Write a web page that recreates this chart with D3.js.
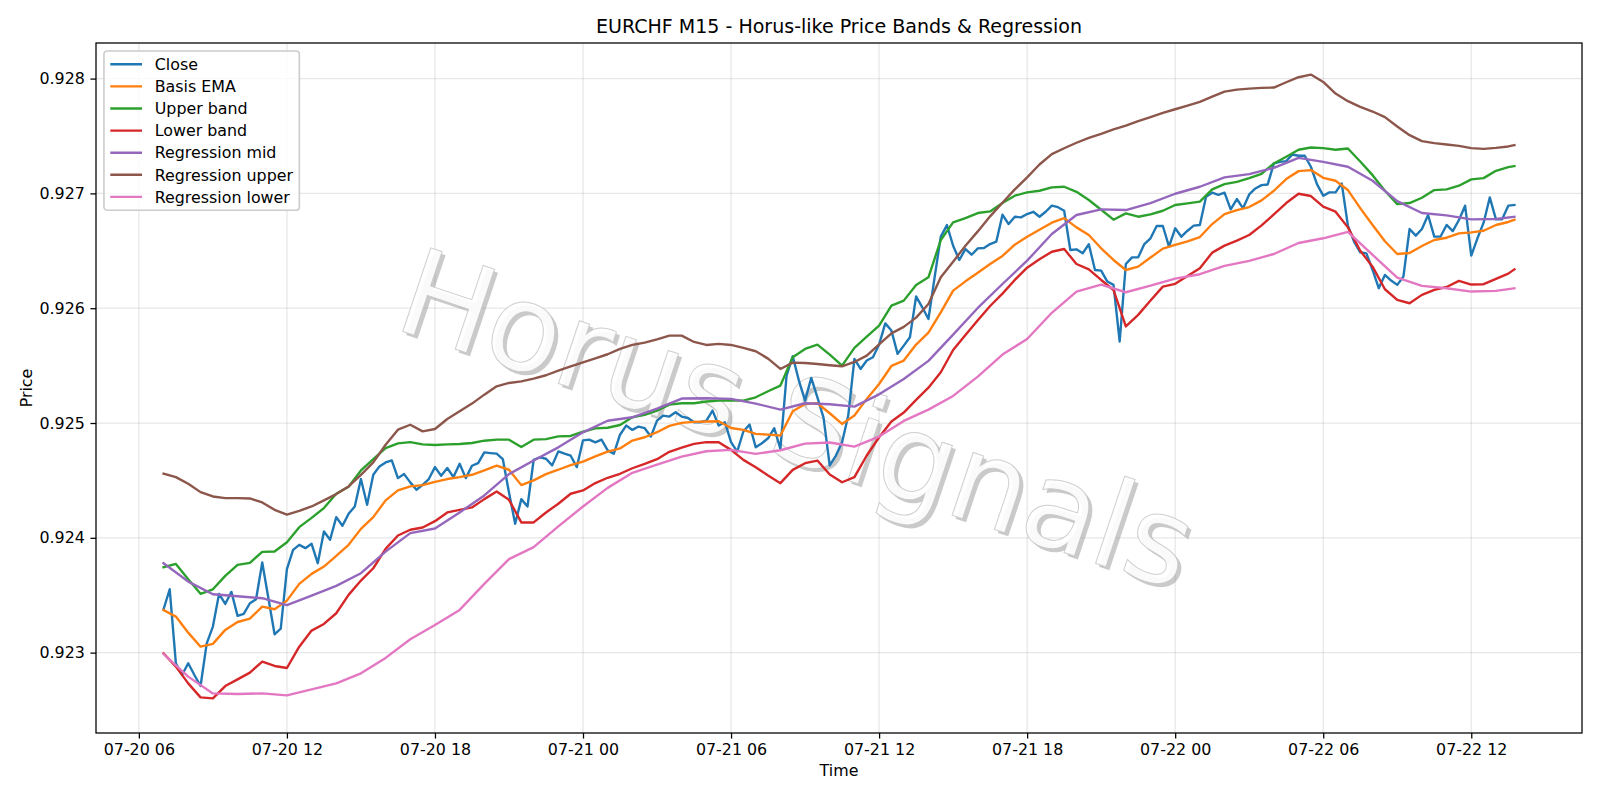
<!DOCTYPE html>
<html><head><meta charset="utf-8">
<script src="https://cdn.jsdelivr.net/npm/d3@7"></script>
<style>
body{margin:0;background:#fff;}
svg text{font-family:"DejaVu Sans",sans-serif;}
</style>
</head><body>
<svg id="chart" width="1600" height="800"></svg>
<script>
// ---------------- DATA ----------------
const chartTitle = "EURCHF M15 - Horus-like Price Bands & Regression";
const xAxisTitle = "Time";
const yAxisTitle = "Price";
const startTime = "2025-07-20T07:00";
const barMinutes = 15;
const seriesNames = ["Close","Basis EMA","Upper band","Lower band","Regression mid","Regression upper","Regression lower"];
const seriesColors = ["#1f77b4","#ff7f0e","#2ca02c","#d62728","#9467bd","#8c564b","#e377c2"];
const xTickLabels = ["07-20 06","07-20 12","07-20 18","07-21 00","07-21 06","07-21 12","07-21 18","07-22 00","07-22 06","07-22 12"];
const yTickLabels = ["0.923","0.924","0.925","0.926","0.927","0.928"];
const yLimits = [0.92230, 0.92831];

// Close, every 15-minute bar (bar 0 .. 219)
const closeValues = [
0.923378,0.923552,0.922907,0.922805,0.922907,0.922805,0.922709,0.923081,0.923227,0.923512,
0.923424,0.923529,0.923320,0.923337,0.923430,0.923465,0.923785,0.923474,0.923160,0.923209,
0.923727,0.923895,0.923939,0.923910,0.923948,0.923779,0.924055,0.923983,0.924180,0.924105,
0.924209,0.924273,0.924512,0.924288,0.924549,0.924622,0.924657,0.924674,0.924520,0.924555,
0.924483,0.924419,0.924462,0.924512,0.924616,0.924541,0.924608,0.924529,0.924645,0.924520,
0.924628,0.924651,0.924744,0.924738,0.924733,0.924686,0.924395,0.924122,0.924337,0.924273,
0.924680,0.924701,0.924689,0.924631,0.924753,0.924733,0.924715,0.924616,0.924849,0.924855,
0.924831,0.924855,0.924762,0.924733,0.924898,0.924978,0.924940,0.924969,0.924955,0.924882,
0.925021,0.925065,0.925056,0.925094,0.925056,0.925044,0.925007,0.925007,0.925021,0.925108,
0.924978,0.925007,0.924833,0.924751,0.924926,0.924986,0.924789,0.924824,0.924867,0.924955,
0.924775,0.925413,0.925581,0.925369,0.925195,0.925393,0.925224,0.925044,0.924630,0.924717,
0.924833,0.925065,0.925558,0.925471,0.925544,0.925573,0.925683,0.925868,0.925805,0.925602,
0.925674,0.925747,0.926103,0.926008,0.925906,0.926269,0.926623,0.926724,0.926544,0.926420,
0.926515,0.926466,0.926521,0.926524,0.926559,0.926579,0.926814,0.926733,0.926797,0.926791,
0.926820,0.926840,0.926797,0.926840,0.926893,0.926880,0.926849,0.926507,0.926513,0.926478,
0.926557,0.926333,0.926327,0.926232,0.926203,0.925710,0.926385,0.926443,0.926443,0.926559,
0.926609,0.926716,0.926716,0.926536,0.926696,0.926623,0.926675,0.926719,0.926725,0.926971,
0.927006,0.926988,0.927006,0.926861,0.926951,0.926870,0.926991,0.927043,0.927072,0.927078,
0.927261,0.927275,0.927281,0.927339,0.927328,0.927328,0.927232,0.927078,0.926980,0.927009,
0.927009,0.927087,0.926719,0.926580,0.926487,0.926478,0.926333,0.926174,0.926290,0.926241,
0.926203,0.926275,0.926690,0.926632,0.926690,0.926812,0.926623,0.926623,0.926725,0.926672,
0.926768,0.926893,0.926458,0.926609,0.926745,0.926965,0.926774,0.926774,0.926893,0.926899
];

// Read every second bar (0,2,...,218) plus the last bar (219)
const emaValues = [
0.923372,0.923314,0.923174,0.923052,0.923076,0.923198,0.923267,0.923296,0.923401,0.923378,
0.923453,0.923599,0.923686,0.923750,0.923843,0.923939,0.924078,0.924180,0.924326,0.924413,
0.924448,0.924459,0.924488,0.924512,0.924529,0.924549,0.924587,0.924628,0.924593,0.924459,
0.924500,0.924555,0.924593,0.924634,0.924663,0.924709,0.924750,0.924779,0.924847,0.924876,
0.924920,0.924975,0.925001,0.925010,0.925013,0.925015,0.924957,0.924940,0.924905,0.924899,
0.924891,0.925102,0.925166,0.925172,0.925085,0.924992,0.925065,0.925210,0.925340,0.925497,
0.925544,0.925683,0.925787,0.925964,0.926153,0.926234,0.926309,0.926385,0.926455,0.926553,
0.926623,0.926684,0.926745,0.926785,0.926704,0.926638,0.926522,0.926420,0.926333,0.926362,
0.926441,0.926519,0.926551,0.926583,0.926620,0.926733,0.926820,0.926855,0.926881,0.926939,
0.927023,0.927125,0.927194,0.927203,0.927136,0.927110,0.927029,0.926872,0.926725,0.926583,
0.926472,0.926481,0.926542,0.926594,0.926614,0.926652,0.926661,0.926675,0.926725,0.926751,
0.926771
];
const upperBandValues = [
0.923744,0.923773,0.923640,0.923512,0.923552,0.923669,0.923765,0.923782,0.923878,0.923881,
0.923962,0.924093,0.924174,0.924259,0.924384,0.924445,0.924587,0.924686,0.924782,0.924823,
0.924834,0.924814,0.924808,0.924814,0.924817,0.924826,0.924846,0.924855,0.924855,0.924791,
0.924855,0.924860,0.924884,0.924887,0.924924,0.924953,0.924959,0.924983,0.925050,0.925071,
0.925108,0.925160,0.925172,0.925172,0.925187,0.925195,0.925198,0.925195,0.925224,0.925277,
0.925326,0.925573,0.925645,0.925683,0.925596,0.925500,0.925654,0.925752,0.925848,0.926022,
0.926066,0.926202,0.926269,0.926594,0.926748,0.926785,0.926829,0.926843,0.926916,0.926980,
0.927009,0.927023,0.927052,0.927058,0.927014,0.926942,0.926858,0.926771,0.926826,0.926797,
0.926817,0.926849,0.926899,0.926913,0.926928,0.927035,0.927081,0.927101,0.927133,0.927171,
0.927261,0.927319,0.927380,0.927400,0.927394,0.927380,0.927391,0.927278,0.927159,0.927023,
0.926907,0.926916,0.926962,0.927029,0.927035,0.927067,0.927122,0.927133,0.927197,0.927229,
0.927238
];
const lowerBandValues = [
0.922994,0.922878,0.922732,0.922610,0.922602,0.922709,0.922767,0.922826,0.922922,0.922884,
0.922866,0.923052,0.923192,0.923250,0.923343,0.923503,0.923628,0.923735,0.923904,0.924020,
0.924070,0.924090,0.924145,0.924221,0.924244,0.924265,0.924337,0.924404,0.924331,0.924134,
0.924134,0.924221,0.924297,0.924384,0.924413,0.924477,0.924523,0.924558,0.924606,0.924644,
0.924685,0.924749,0.924786,0.924818,0.924833,0.924833,0.924766,0.924679,0.924615,0.924543,
0.924476,0.924592,0.924650,0.924673,0.924551,0.924484,0.924528,0.924717,0.924876,0.925013,
0.925091,0.925201,0.925308,0.925442,0.925636,0.925767,0.925895,0.926019,0.926127,0.926246,
0.926353,0.926426,0.926492,0.926516,0.926385,0.926339,0.926246,0.926159,0.925841,0.925942,
0.926067,0.926188,0.926212,0.926281,0.926348,0.926484,0.926545,0.926588,0.926638,0.926722,
0.926817,0.926916,0.926997,0.926977,0.926884,0.926841,0.926704,0.926501,0.926362,0.926165,
0.926072,0.926043,0.926116,0.926159,0.926185,0.926238,0.926206,0.926209,0.926255,0.926301,
0.926339
];
const regUpperValues = [
0.924558,0.924529,0.924471,0.924398,0.924360,0.924346,0.924346,0.924343,0.924308,0.924244,
0.924203,0.924235,0.924273,0.924326,0.924381,0.924448,0.924549,0.924657,0.924811,0.924942,
0.924985,0.924927,0.924948,0.925035,0.925102,0.925169,0.925247,0.925320,0.925349,0.925363,
0.925387,0.925416,0.925456,0.925494,0.925529,0.925564,0.925599,0.925645,0.925680,0.925700,
0.925729,0.925761,0.925761,0.925706,0.925680,0.925689,0.925680,0.925654,0.925625,0.925561,
0.925471,0.925526,0.925523,0.925514,0.925503,0.925494,0.925532,0.925587,0.925686,0.925781,
0.925837,0.925918,0.926037,0.926269,0.926405,0.926544,0.926669,0.926800,0.926919,0.927035,
0.927139,0.927252,0.927342,0.927393,0.927441,0.927484,0.927519,0.927557,0.927591,0.927629,
0.927664,0.927701,0.927733,0.927765,0.927797,0.927843,0.927887,0.927904,0.927913,0.927919,
0.927922,0.927968,0.928012,0.928035,0.927971,0.927870,0.927803,0.927754,0.927713,0.927664,
0.927583,0.927507,0.927455,0.927438,0.927426,0.927414,0.927394,0.927388,0.927397,0.927409,
0.927420
];
// Read every fourth bar (0,4,...,216) plus the last bar (219)
const regMidValues = [
0.923779,0.923619,0.923509,0.923491,0.923474,0.923413,0.923497,0.923581,0.923692,0.923880,
0.924041,0.924081,0.924221,0.924369,0.924555,0.924674,0.924788,0.924919,0.925020,0.925050,
0.925126,0.925213,0.925216,0.925210,0.925169,0.925117,0.925172,0.925163,0.925143,0.925250,
0.925384,0.925541,0.925770,0.926002,0.926211,0.926414,0.926646,0.926812,0.926861,0.926855,
0.926916,0.926997,0.927058,0.927139,0.927168,0.927223,0.927310,0.927275,0.927232,0.927110,
0.926933,0.926829,0.926809,0.926774,0.926777,
0.926797
];
const regLowerValues = [
0.922988,0.922791,0.922645,0.922640,0.922645,0.922628,0.922680,0.922732,0.922820,0.922954,
0.923116,0.923241,0.923372,0.923599,0.923814,0.923919,0.924099,0.924273,0.924435,0.924566,
0.924638,0.924708,0.924754,0.924766,0.924731,0.924763,0.924821,0.924830,0.924795,0.924882,
0.925018,0.925117,0.925236,0.925404,0.925596,0.925732,0.925960,0.926145,0.926206,0.926139,
0.926197,0.926258,0.926296,0.926368,0.926412,0.926472,0.926568,0.926609,0.926665,0.926464,
0.926267,0.926194,0.926174,0.926145,0.926151,
0.926174
];
const watermarkText = "Horus Signals";

// ---------------- CHART ----------------
const W = 1600, H = 800;
const PT = 114.29 / 72;            // points -> pixels
const margin = {left: 96, right: 18, top: 43, bottom: 67};
const plotW = W - margin.left - margin.right;
const plotH = H - margin.top - margin.bottom;
const fsTick = 10 * PT, fsTitle = 12 * PT;

const parseStart = d3.utcParse("%Y-%m-%dT%H:%M");
const t0 = parseStart(startTime);
const barTime = i => new Date(t0.getTime() + i * barMinutes * 60000);
const lastBar = closeValues.length - 1;
const halfHourBars = d3.range(0, lastBar, 2).concat([lastBar]);
const hourBars = d3.range(0, lastBar - 2, 4).concat([lastBar]);

const mk = (bars, vals) => bars.map((b, k) => ({t: barTime(b), v: vals[k]}));
const series = [
  mk(d3.range(closeValues.length), closeValues),
  mk(halfHourBars, emaValues),
  mk(halfHourBars, upperBandValues),
  mk(halfHourBars, lowerBandValues),
  mk(hourBars, regMidValues),
  mk(halfHourBars, regUpperValues),
  mk(hourBars, regLowerValues)
];

const tStart = barTime(0), tEnd = barTime(lastBar);
const span = tEnd - tStart;
const x = d3.scaleUtc()
  .domain([new Date(+tStart - 0.05 * span), new Date(+tEnd + 0.05 * span)])
  .range([0, plotW]);
const y = d3.scaleLinear().domain(yLimits).range([plotH, 0]);

const svg = d3.select("#chart");
svg.append("rect").attr("width", W).attr("height", H).attr("fill", "#fff");
const g = svg.append("g").attr("transform", `translate(${margin.left},${margin.top})`);

const parseTick = d3.utcParse("%Y-%m-%d %H");
const xTickDates = xTickLabels.map(l => parseTick("2025-" + l));
const yTickVals = yTickLabels.map(Number);

// grid
const gridStyle = sel => sel.attr("stroke", "#b0b0b0").attr("stroke-opacity", 0.3).attr("stroke-width", 0.8 * PT);
g.append("g").selectAll("line").data(xTickDates).join("line")
  .attr("x1", d => x(d)).attr("x2", d => x(d)).attr("y1", 0).attr("y2", plotH).call(gridStyle);
g.append("g").selectAll("line").data(yTickVals).join("line")
  .attr("x1", 0).attr("x2", plotW).attr("y1", d => y(d)).attr("y2", d => y(d)).call(gridStyle);

// clip
svg.append("defs").append("clipPath").attr("id", "clip")
  .append("rect").attr("width", plotW).attr("height", plotH);

// watermark
const wm = g.append("g").attr("clip-path", "url(#clip)");
const wmX = 688, wmY = 416, wmRot = 18.5, wmSize = 121;
wm.append("text").text(watermarkText)
  .attr("transform", `translate(${wmX + 3.5},${wmY + 3.5}) rotate(${wmRot})`)
  .attr("text-anchor", "middle").attr("font-size", wmSize)
  .attr("fill", "#8a8a8a").attr("fill-opacity", 0.45);
wm.append("text").text(watermarkText)
  .attr("transform", `translate(${wmX},${wmY}) rotate(${wmRot})`)
  .attr("text-anchor", "middle").attr("font-size", wmSize)
  .attr("fill", "#ffffff").attr("fill-opacity", 0.9)
  .attr("stroke", "#c4c4c4").attr("stroke-width", 1).attr("stroke-opacity", 0.8);

// lines
const line = d3.line().x(d => x(d.t)).y(d => y(d.v));
const lg = g.append("g").attr("clip-path", "url(#clip)");
series.forEach((s, k) => {
  lg.append("path").datum(s).attr("d", line)
    .attr("fill", "none").attr("stroke", seriesColors[k]).attr("stroke-width", 1.5 * PT)
    .attr("stroke-linejoin", "round").attr("stroke-linecap", "square");
});

// axes
const tickLen = 3.5 * PT, tickPad = 3.5 * PT;
const xAxis = d3.axisBottom(x).tickValues(xTickDates)
  .tickFormat((d, i) => xTickLabels[i]).tickSize(tickLen).tickPadding(tickPad);
const yAxis = d3.axisLeft(y).tickValues(yTickVals)
  .tickFormat((d, i) => yTickLabels[i]).tickSize(tickLen).tickPadding(tickPad);
const gx = g.append("g").attr("transform", `translate(0,${plotH})`).call(xAxis);
const gy = g.append("g").call(yAxis);
[gx, gy].forEach(a => {
  a.select(".domain").remove();
  a.selectAll("line").attr("stroke", "#000").attr("stroke-width", 0.8 * PT);
  a.selectAll("text").attr("font-size", fsTick).attr("fill", "#000")
    .attr("font-family", "DejaVu Sans");
});

// frame
g.append("rect").attr("width", plotW).attr("height", plotH)
  .attr("fill", "none").attr("stroke", "#000").attr("stroke-width", 0.8 * PT);

// labels
svg.append("text").text(chartTitle)
  .attr("x", margin.left + plotW / 2).attr("y", 33)
  .attr("text-anchor", "middle").attr("font-size", fsTitle).attr("fill", "#000");
svg.append("text").text(xAxisTitle)
  .attr("x", margin.left + plotW / 2).attr("y", 776)
  .attr("text-anchor", "middle").attr("font-size", fsTick).attr("fill", "#000");
svg.append("text").text(yAxisTitle)
  .attr("transform", `translate(31.5,${margin.top + plotH / 2}) rotate(-90)`)
  .attr("text-anchor", "middle").attr("font-size", fsTick).attr("fill", "#000");

// legend
const leg = g.append("g").attr("transform", `translate(${0.5 * fsTick},${0.5 * fsTick})`);
const rowH = 22.1, pad = 0.4 * fsTick, handleLen = 2.0 * fsTick, textPad = 0.8 * fsTick;
const legBox = leg.append("rect").attr("rx", 0.2 * fsTick).attr("ry", 0.2 * fsTick)
  .attr("fill", "#fff").attr("fill-opacity", 0.8)
  .attr("stroke", "#cccccc").attr("stroke-width", 1 * PT);
const items = leg.selectAll("g.item").data(seriesNames).join("g")
  .attr("transform", (d, i) => `translate(${pad},${pad + 7 + i * rowH})`);
items.append("line").attr("x1", 0).attr("x2", handleLen).attr("y1", 0).attr("y2", 0)
  .attr("stroke", (d, i) => seriesColors[i]).attr("stroke-width", 1.5 * PT);
const texts = items.append("text").text(d => d).attr("x", handleLen + textPad).attr("y", 0)
  .attr("dy", "0.36em").attr("font-size", fsTick).attr("fill", "#000");
let maxW = 0;
texts.each(function(){ maxW = Math.max(maxW, this.getComputedTextLength()); });
legBox.attr("width", pad + handleLen + textPad + maxW + pad)
  .attr("height", pad * 2 + 14 + (seriesNames.length - 1) * rowH);
</script>
</body></html>
